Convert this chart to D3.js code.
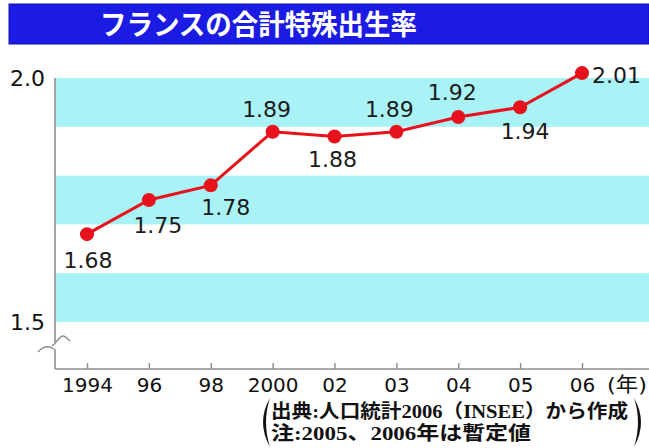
<!DOCTYPE html>
<html>
<head>
<meta charset="utf-8">
<script src="https://cdn.jsdelivr.net/npm/d3@7/dist/d3.min.js"></script>
<style>
  html, body { margin: 0; padding: 0; background: #fff; }
  svg { display: block; }
</style>
</head>
<body>
<svg id="chart" width="649" height="448"></svg>
<script>
// ---- data ----
const categories = ["1994", "96", "98", "2000", "02", "03", "04", "05", "06"];
const values = [1.68, 1.75, 1.78, 1.89, 1.88, 1.89, 1.92, 1.94, 2.01];
const yTickValues = [1.5, 2.0];
const bandEdges = [1.5, 1.6, 1.7, 1.8, 1.9, 2.0];
const titleText = "フランスの合計特殊出生率";
const unitText = "(年)";
const noteLines = ["出典:人口統計2006（INSEE）から作成", "注:2005、2006年は暫定値"];

// label placement relative to each point (layout, not data)
const labelOffsets = [
  { dx: 1, dy: 34, anchor: "middle" },
  { dx: 9, dy: 33, anchor: "middle" },
  { dx: 15, dy: 30, anchor: "middle" },
  { dx: -6, dy: -15, anchor: "middle" },
  { dx: -2, dy: 30, anchor: "middle" },
  { dx: -7, dy: -15, anchor: "middle" },
  { dx: -6, dy: -17, anchor: "middle" },
  { dx: 5, dy: 32, anchor: "middle" },
  { dx: 10, dy: 10, anchor: "start" }
];

// ---- layout ----
const W = 649, H = 448;
const axisX = 55, axisBottom = 369;
const svg = d3.select("#chart");

const x = d3.scalePoint().domain(categories).range([87, 582]);
const y = d3.scaleLinear().domain([1.5, 2.0]).range([322, 78]);

// title bar
svg.append("rect").attr("x", 9).attr("y", 4).attr("width", W - 9).attr("height", 40)
  .attr("fill", "#1b1be4").attr("stroke", "#1010b0").attr("stroke-width", 1);
svg.append("text").attr("x", 100).attr("y", 35)
  .attr("textLength", 317).attr("lengthAdjust", "spacingAndGlyphs")
  .attr("font-family", "'Noto Sans CJK JP', sans-serif").attr("font-weight", "bold")
  .attr("font-size", 28).attr("fill", "#fff").text(titleText);

// alternating bands (cyan for every other 0.1 step starting from top)
const bands = d3.pairs(bandEdges).map(([lo, hi], i) => ({ lo, hi, i }));
svg.append("g").selectAll("rect").data(bands.filter(b => (bands.length - 1 - b.i) % 2 === 0))
  .join("rect")
  .attr("x", axisX + 1).attr("width", W - axisX - 1)
  .attr("y", d => y(d.hi)).attr("height", d => y(d.lo) - y(d.hi))
  .attr("fill", "#a9f3f7");

// y axis line with break
const axisColor = "#8c8c8c";
svg.append("line").attr("x1", axisX).attr("x2", axisX).attr("y1", y(2.0)).attr("y2", 342)
  .attr("stroke", axisColor).attr("stroke-width", 1.6);
svg.append("line").attr("x1", axisX).attr("x2", axisX).attr("y1", 349).attr("y2", axisBottom)
  .attr("stroke", axisColor).attr("stroke-width", 1.6);
svg.append("path").attr("d", "M38,352 C43,346 48,345 54,349")
  .attr("fill", "none").attr("stroke", axisColor).attr("stroke-width", 1.4);
svg.append("path").attr("d", "M52,346 C57,342 60,336 63,336 C65,336 67,338 70,341")
  .attr("fill", "none").attr("stroke", axisColor).attr("stroke-width", 1.4);

// y axis labels
const yAxis = svg.append("g").attr("transform", `translate(${axisX},0)`)
  .call(d3.axisLeft(y).tickValues(yTickValues).tickSize(0).tickPadding(10).tickFormat(d3.format(".1f")));
yAxis.select(".domain").remove();
yAxis.selectAll("text").attr("font-family", "'DejaVu Sans', sans-serif").attr("font-size", 22)
  .attr("fill", "#111");

// x axis
svg.append("line").attr("x1", axisX).attr("x2", W).attr("y1", axisBottom).attr("y2", axisBottom)
  .attr("stroke", axisColor).attr("stroke-width", 1.6);
const xAxis = svg.append("g").attr("transform", `translate(0,${axisBottom})`)
  .call(d3.axisBottom(x).tickSize(-6).tickPadding(9));
xAxis.select(".domain").remove();
xAxis.selectAll(".tick line").attr("stroke", axisColor).attr("stroke-width", 1.4);
xAxis.selectAll("text").attr("font-family", "'DejaVu Sans', sans-serif").attr("font-size", 20)
  .attr("fill", "#111");
svg.append("text").attr("x", 607).attr("y", 392)
  .attr("textLength", 40).attr("lengthAdjust", "spacingAndGlyphs")
  .attr("font-family", "'DejaVu Sans', 'Noto Sans CJK JP', sans-serif").attr("font-size", 20)
  .attr("fill", "#111").text(unitText);

// line + markers
const pts = categories.map((c, i) => ({ c, v: values[i], i }));
const red = "#e8121c";
svg.append("path").datum(pts)
  .attr("d", d3.line().x(d => x(d.c)).y(d => y(d.v)))
  .attr("fill", "none").attr("stroke", red).attr("stroke-width", 3);
svg.append("g").selectAll("circle").data(pts).join("circle")
  .attr("cx", d => x(d.c)).attr("cy", d => y(d.v)).attr("r", 7)
  .attr("fill", red);

// value labels
svg.append("g").selectAll("text").data(pts).join("text")
  .attr("x", d => x(d.c) + labelOffsets[d.i].dx)
  .attr("y", d => y(d.v) + labelOffsets[d.i].dy)
  .attr("text-anchor", d => labelOffsets[d.i].anchor)
  .attr("font-family", "'DejaVu Sans', sans-serif").attr("font-size", 22)
  .attr("fill", "#1a1a1a")
  .text(d => d3.format(".2f")(d.v));

// source note with large brackets
svg.append("path").attr("d", "M270,398 Q256,422 270,447 Q262,422 270,398 Z").attr("fill", "#111");
svg.append("path").attr("d", "M634,398 Q648,422 634,447 Q642,422 634,398 Z").attr("fill", "#111");
const noteLens = [357, 260];
const noteY = [418, 440];
svg.append("g").selectAll("text").data(noteLines).join("text")
  .attr("x", 271).attr("y", (d, i) => noteY[i])
  .attr("textLength", (d, i) => noteLens[i]).attr("lengthAdjust", "spacingAndGlyphs")
  .attr("font-family", "'Liberation Serif', 'Noto Sans CJK JP', serif").attr("font-weight", "bold")
  .attr("font-size", 19).attr("fill", "#111")
  .text(d => d);
</script>
</body>
</html>
